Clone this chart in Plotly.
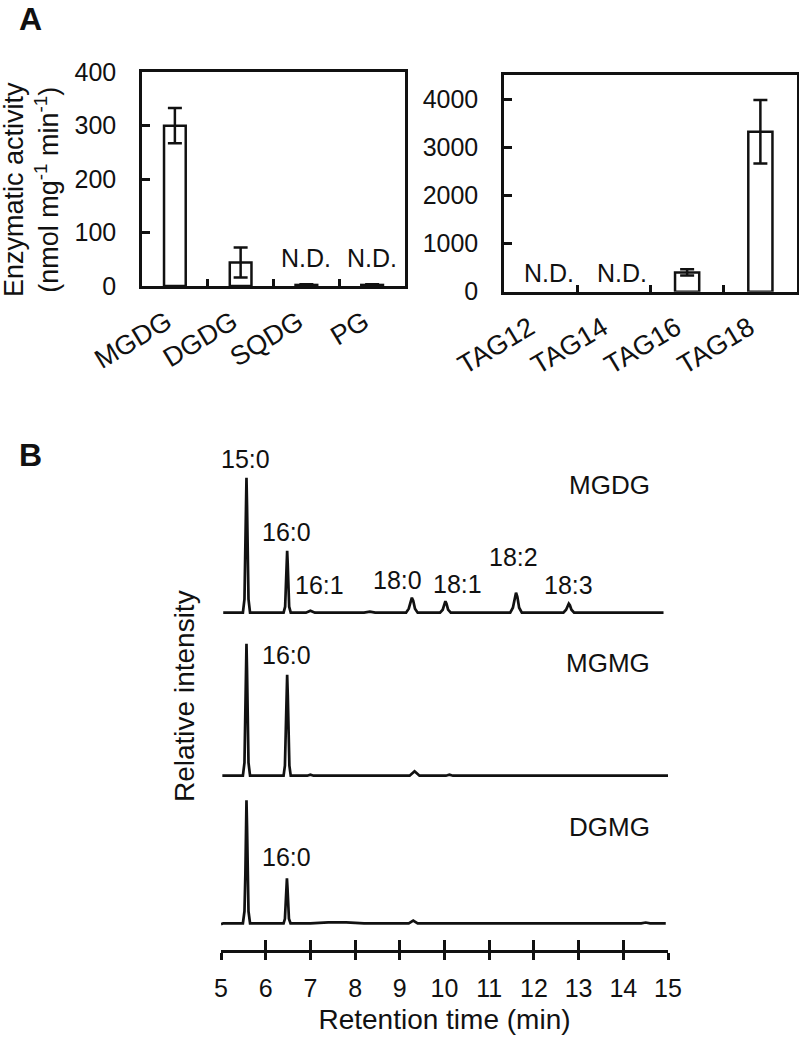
import plotly.graph_objects as go

W, H = 799, 1040
FONT = "Liberation Sans, Arial, sans-serif"
INK = "#111111"
LW = 2.5

# ---------------- Panel A data ----------------
lipids = ["MGDG", "DGDG", "SQDG", "PG"]
lipid_activity = [300, 44, 2, 2]
lipid_err = [33, 28, 1.5, 1.5]
lipid_nd = ["SQDG", "PG"]

tags = ["TAG12", "TAG14", "TAG16", "TAG18"]
tag_activity = [None, None, 400, 3320]
tag_err = [None, None, 65, 660]
tag_nd = ["TAG12", "TAG14"]

# ---------------- Panel B data (retention time, min / relative intensity) ----------------
mgdg_t = [5.05, 5.49, 5.525, 5.545, 5.558, 5.57, 5.582, 5.595, 5.615, 5.65,
          6.40, 6.435, 6.455, 6.468, 6.48, 6.492, 6.505, 6.525, 6.56,
          6.90, 7.00, 7.10, 8.20, 8.33, 8.45,
          9.14, 9.20, 9.24, 9.27, 9.30, 9.34, 9.40,
          9.90, 9.96, 9.995, 10.02, 10.045, 10.08, 10.14,
          11.47, 11.53, 11.57, 11.60, 11.63, 11.67, 11.73,
          12.66, 12.72, 12.755, 12.78, 12.805, 12.84, 12.90, 14.90]
mgdg_i = [0, 0, 13.5, 54, 108, 135, 108, 54, 13.5, 0,
          0, 6, 25, 50, 62, 50, 25, 6, 0,
          0, 2, 0, 0, 1, 0,
          0, 4, 12, 15, 12, 4, 0,
          0, 3, 9, 11.5, 9, 3, 0,
          0, 5, 16, 20, 16, 5, 0,
          0, 3, 7.5, 9, 7.5, 3, 0, 0]

mgmg_t = [5.03, 5.49, 5.525, 5.545, 5.558, 5.57, 5.582, 5.595, 5.615, 5.65,
          6.40, 6.43, 6.452, 6.466, 6.48, 6.494, 6.508, 6.53, 6.56,
          6.93, 7.00, 7.07, 9.22, 9.28, 9.33, 9.38, 9.44,
          10.03, 10.11, 10.19, 15.00]
mgmg_i = [0, 0, 13, 53, 106, 132, 106, 53, 13, 0,
          0, 10, 40, 81, 101, 81, 40, 10, 0,
          0, 1, 0, 0, 2.5, 4.5, 2.5, 0,
          0, 1, 0, 0]

dgmg_t = [5.00, 5.05, 5.49, 5.525, 5.545, 5.558, 5.57, 5.582, 5.595, 5.615, 5.65,
          6.40, 6.43, 6.45, 6.463, 6.475, 6.487, 6.50, 6.52, 6.555,
          7.00, 7.40, 7.80, 8.20, 9.20, 9.30, 9.40,
          14.40, 14.50, 14.60, 14.95]
dgmg_i = [-1, 0, 0, 12, 49, 98, 123, 98, 49, 12, 0,
          0, 4.5, 18, 36, 45, 36, 18, 4.5, 0,
          0, 1, 1, 0, 0, 2.7, 0,
          0, 0.8, 0, 0]

# peak labels: (text, retention time, height)
mgdg_labels = [("15:0", 5.555, 154), ("16:0", 6.455, 81), ("16:1", 7.205, 28),
               ("18:0", 8.94, 33), ("18:1", 10.28, 29), ("18:2", 11.54, 56),
               ("18:3", 12.77, 28)]
mgmg_labels = [("16:0", 6.455, 121)]
dgmg_labels = [("16:0", 6.46, 66)]
sample_names = [("MGDG", 13.70, 128), ("MGMG", 13.66, 113), ("DGMG", 13.70, 96)]
rt_ticks = list(range(5, 16))


def px_x(px):
    return px / W


def px_y(px):
    return 1 - px / H


fig = go.Figure()

bar_style = dict(marker=dict(color="white", line=dict(color=INK, width=LW)), width=0.33,
                 showlegend=False, hoverinfo="x+y")
fig.add_trace(go.Bar(x=lipids, y=lipid_activity,
                     error_y=dict(type="data", array=lipid_err, color=INK, thickness=LW, width=7),
                     xaxis="x", yaxis="y", **bar_style))
fig.add_trace(go.Bar(x=tags, y=tag_activity,
                     error_y=dict(type="data", array=tag_err, color=INK, thickness=LW, width=7),
                     xaxis="x2", yaxis="y2", **bar_style))

line_style = dict(mode="lines", line=dict(color=INK, width=2.7), showlegend=False)
fig.add_trace(go.Scatter(x=mgdg_t, y=mgdg_i, xaxis="x3", yaxis="y3", name="MGDG", **line_style))
fig.add_trace(go.Scatter(x=mgmg_t, y=mgmg_i, xaxis="x4", yaxis="y4", name="MGMG", **line_style))
fig.add_trace(go.Scatter(x=dgmg_t, y=dgmg_i, xaxis="x5", yaxis="y5", name="DGMG", **line_style))
# invisible trace so the overlaid tick axis is drawn
fig.add_trace(go.Scatter(x=[None], y=[None], xaxis="x6", yaxis="y5", showlegend=False,
                         hoverinfo="skip"))

tickfont = dict(family=FONT, size=25, color=INK)
catfont = dict(family=FONT, size=27, color=INK)


def bar_axes(xdom, ytop, ybot, yrange, dtick, shift):
    xa = dict(domain=[px_x(xdom[0]), px_x(xdom[1])], showline=True, mirror=True,
              linecolor=INK, linewidth=LW, ticks="inside", tickson="boundaries",
              ticklen=7, tickwidth=LW, tickcolor=INK, tickangle=-31,
              tickfont=catfont, showgrid=False, zeroline=False, fixedrange=True,
              automargin=False, ticklabelshift=shift, ticklabelstandoff=7)
    ya = dict(domain=[px_y(ybot), px_y(ytop)], range=yrange, showline=True, mirror=True,
              linecolor=INK, linewidth=LW, ticks="inside", ticklen=8, tickwidth=LW,
              tickcolor=INK, dtick=dtick, tickfont=tickfont, showgrid=False,
              zeroline=False, ticklabelstandoff=18, fixedrange=True, automargin=False)
    return xa, ya


xa1, ya1 = bar_axes((142, 405), 72.3, 286, [0, 400], 100, -8)
xa2, ya2 = bar_axes((504, 797), 75, 291.7, [0, 4500], 1000, -11)
xa1["anchor"] = "y"
ya1["anchor"] = "x"
xa2["anchor"] = "y2"
ya2["anchor"] = "x2"


def trace_axis(top_px, bottom_px, base_px):
    return dict(domain=[px_y(bottom_px), px_y(top_px)],
                range=[-(bottom_px - base_px), base_px - top_px],
                visible=False, fixedrange=True, automargin=False)


bx = [px_x(221), px_x(668)]
hidden_x = dict(domain=bx, range=[5, 15], visible=False, fixedrange=True, automargin=False)

layout = dict(
    width=W, height=H, margin=dict(l=0, r=0, t=0, b=0, autoexpand=False),
    paper_bgcolor="white", plot_bgcolor="white",
    font=dict(family=FONT, color=INK),
    showlegend=False, bargap=0.2,
    xaxis=xa1, yaxis=ya1, xaxis2=xa2, yaxis2=ya2,
    xaxis3=dict(hidden_x, anchor="y3"), yaxis3=dict(trace_axis(440, 625, 612.7), anchor="x3"),
    xaxis4=dict(hidden_x, anchor="y4"), yaxis4=dict(trace_axis(630, 790, 775.7), anchor="x4"),
    xaxis5=dict(domain=bx, range=[5, 15], anchor="y5", showline=True, linecolor=INK,
                linewidth=LW, ticks="outside", ticklen=7, tickwidth=LW, tickcolor=INK,
                tickvals=rt_ticks, tickfont=tickfont, showgrid=False, zeroline=False,
                ticklabelstandoff=7, fixedrange=True, automargin=False,
                title=dict(text="Retention time (min)", font=dict(family=FONT, size=28, color=INK),
                           standoff=9)),
    xaxis6=dict(domain=bx, range=[5, 15], anchor="y5", overlaying="x5", showline=False,
                ticks="inside", ticklen=10, tickwidth=LW, tickcolor=INK, tickvals=rt_ticks,
                showticklabels=False, showgrid=False, zeroline=False, fixedrange=True,
                automargin=False),
    yaxis5=dict(trace_axis(795, 950, 923.3), anchor="x5"),
)
fig.update_layout(**layout)

C = dict(showarrow=False, xanchor="center", yanchor="middle")
ann = []
# panel letters
ann.append(dict(text="<b>A</b>", x=px_x(30), y=px_y(19), xref="paper", yref="paper",
                font=dict(family=FONT, size=32, color=INK), **C))
ann.append(dict(text="<b>B</b>", x=px_x(30), y=px_y(455), xref="paper", yref="paper",
                font=dict(family=FONT, size=32, color=INK), **C))
# y titles
ann.append(dict(text="Enzymatic activity<br>(nmol mg<sup>-1</sup> min<sup>-1</sup>)",
                x=px_x(31), y=px_y(190), xref="paper", yref="paper", textangle=-90,
                font=dict(family=FONT, size=27, color=INK), **C))
ann.append(dict(text="Relative intensity", x=px_x(184), y=px_y(696), xref="paper",
                yref="paper", textangle=-90, font=dict(family=FONT, size=28, color=INK), **C))
# N.D. labels
for c in lipid_nd:
    ann.append(dict(text="N.D.", x=c, y=53, xref="x", yref="y",
                    font=dict(family=FONT, size=25, color=INK), **C))
for c in tag_nd:
    ann.append(dict(text="N.D.", x=c, y=390, xref="x2", yref="y2", xshift=8,
                    font=dict(family=FONT, size=25, color=INK), **C))
# peak labels
for labels, ax in ((mgdg_labels, "3"), (mgmg_labels, "4"), (dgmg_labels, "5")):
    for t, x, y in labels:
        ann.append(dict(text=t, x=x, y=y, xref="x" + ax, yref="y" + ax,
                        font=dict(family=FONT, size=25, color=INK), **C))
for (t, x, y), ax in zip(sample_names, ("3", "4", "5")):
    ann.append(dict(text=t, x=x, y=y, xref="x" + ax, yref="y" + ax,
                    font=dict(family=FONT, size=26, color=INK), **C))

fig.update_layout(annotations=ann)
fig.write_html("out.html", config={"displayModeBar": False},
               post_script="document.body.style.margin='0px';document.body.style.overflow='hidden';")
